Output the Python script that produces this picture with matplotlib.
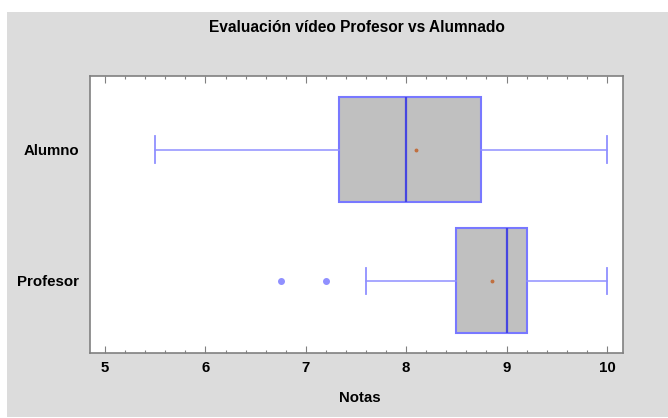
import matplotlib
matplotlib.use("Agg")
import matplotlib.pyplot as plt
from matplotlib.patches import Rectangle
from matplotlib.ticker import MultipleLocator

plt.rcParams["font.family"] = ["Liberation Sans", "DejaVu Sans"]

# ── data ──
categories = ["Profesor", "Alumno"]
whisker_low = [7.6, 5.5]
q1 = [8.5, 7.33]
median = [9.0, 8.0]
q3 = [9.2, 8.75]
whisker_high = [10.0, 10.0]
means = [8.85, 8.1]
outliers = [[6.75, 7.2], []]

BG = "#dcdcdc"
BOX_FILL = "#c0c0c0"
BLUE = "#7878ff"
WHISK = "#9090ff"
MED_BLUE = "#4646e0"
MEAN_C = "#c07040"
SPINE = "#808080"

fig = plt.figure(figsize=(6.68, 4.18), dpi=100, facecolor="white")
fig.patches.append(Rectangle((7 / 668, 1 / 418), 1 - 7 / 668, 405 / 418,
                             transform=fig.transFigure, facecolor=BG,
                             edgecolor="none", zorder=-10))

ax = fig.add_axes([90 / 668, 65 / 418, 533 / 668, 277 / 418])
ax.set_facecolor("white")

stats = []
for i, name in enumerate(categories):
    stats.append(dict(label=name, whislo=whisker_low[i], q1=q1[i], med=median[i],
                      q3=q3[i], whishi=whisker_high[i], mean=means[i],
                      fliers=outliers[i]))

ax.bxp(stats, positions=[1, 2], widths=0.8, orientation="horizontal",
       patch_artist=True, showmeans=True, capwidths=0.2,
       boxprops=dict(facecolor=BOX_FILL, edgecolor=BLUE, lw=1.5),
       whiskerprops=dict(color=WHISK, lw=1.1),
       capprops=dict(color=WHISK, lw=1.3),
       medianprops=dict(color=MED_BLUE, lw=1.6),
       meanprops=dict(marker="o", markersize=1.8, markerfacecolor=MEAN_C,
                      markeredgecolor=MEAN_C),
       flierprops=dict(marker="o", markersize=4, markerfacecolor="#9090ff",
                       markeredgecolor="#9090ff"))

ax.set_xlim(4.85, 10.16)
ax.set_ylim(0.45, 2.56)

ax.xaxis.set_major_locator(MultipleLocator(1))
ax.xaxis.set_minor_locator(MultipleLocator(0.2))
ax.tick_params(axis="x", which="major", direction="in", length=5, width=0.8,
               color=SPINE, top=True, pad=6)
ax.tick_params(axis="x", which="minor", direction="in", length=2.5, width=0.8,
               color=SPINE, top=True)
ax.tick_params(axis="y", length=0, pad=8)
for lab in ax.get_xticklabels() + ax.get_yticklabels():
    lab.set_fontweight("bold")
    lab.set_fontsize(10.8)

for sp in ax.spines.values():
    sp.set_color(SPINE)
    sp.set_linewidth(1.2)

fig.text(356.5 / 668, 1 - 28 / 418, "Evaluación vídeo Profesor vs Alumnado",
         ha="center", va="center", fontsize=11.2, fontweight="bold")
fig.text(360 / 668, 1 - 398 / 418, "Notas", ha="center", va="center",
         fontsize=10.8, fontweight="bold")

fig.savefig("out.png", dpi=100, facecolor="white")
